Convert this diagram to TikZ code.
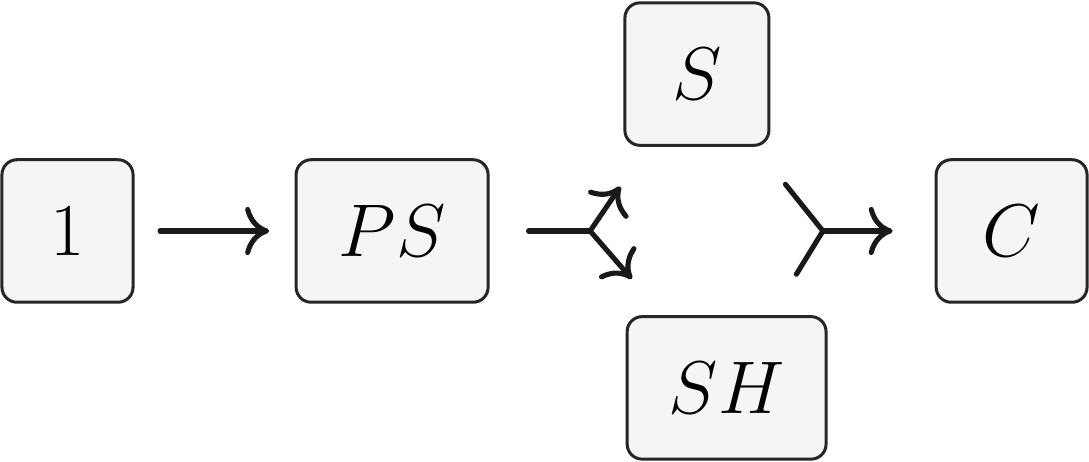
\documentclass[tikz,border=0pt]{standalone}
\usetikzlibrary{arrows.meta}
\begin{document}
\begin{tikzpicture}[
  x=1pt, y=1pt,
  every node/.style={rectangle, rounded corners=5pt, draw=black!85, line width=1pt,
    fill=black!4, minimum height=47.5pt, inner xsep=2pt, font=\Huge},
  link/.style={draw=black!90, line width=1.7pt, line cap=round},
  >={Computer Modern Rightarrow[length=8pt, width=16pt]}
]
\useasboundingbox (0,0) rectangle (363,154);

\node[minimum width=43.7pt] (one) at (22.5,77) {$1$};
\node[minimum width=64pt] (ps) at (130.7,77) {$PS$};
\node[minimum width=48pt] (s) at (232.3,129.3) {$S$};
\node[minimum width=66.3pt] (sh) at (242.2,24.7) {$SH$};
\node[minimum width=50.3pt] (c) at (337.2,77) {$C$};
\coordinate (fork) at (196.7,77);
\coordinate (merge) at (274.3,77);

\draw[link, ->, shorten <=8.5pt, shorten >=8.5pt] (one) -- (ps);
\draw[link, shorten <=13pt] (ps) -- (fork);
\draw[link, ->, shorten >=16pt] (fork) -- (s);
\draw[link, ->, shorten >=16pt] (fork) -- (sh);
\draw[link, shorten <=16pt] (s) -- (merge);
\draw[link, shorten <=16pt] (sh) -- (merge);
\draw[link, ->, shorten >=14pt] (merge) -- (c);
\end{tikzpicture}
\end{document}
